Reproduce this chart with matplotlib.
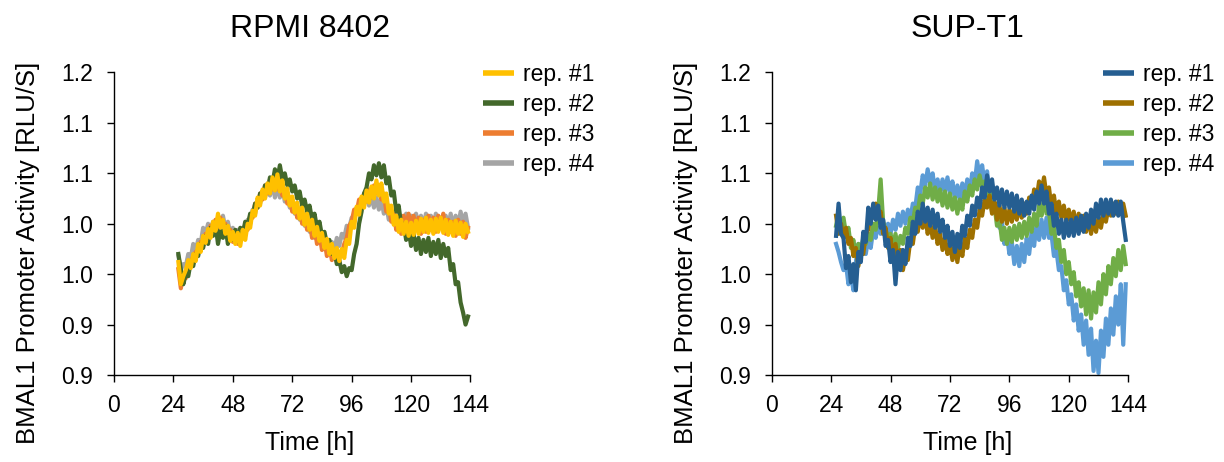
import numpy as np
import matplotlib
matplotlib.use("Agg")
import matplotlib.pyplot as plt

plt.rcParams['font.family'] = ['Liberation Sans', 'DejaVu Sans']

# time axis [h], one reading per hour from 26 h to 143 h
hours = list(range(26, 144))

# RPMI 8402
rpmi_rep1 = [1.012, 0.990, 0.998, 1.004, 1.014, 1.006, 1.020, 1.013, 1.030, 1.022,
             1.038, 1.031, 1.045, 1.036, 1.052, 1.043, 1.060, 1.046, 1.054, 1.040,
             1.048, 1.033, 1.042, 1.030, 1.041, 1.028, 1.044, 1.034, 1.050, 1.046,
             1.063, 1.058, 1.076, 1.068, 1.084, 1.075, 1.090, 1.080, 1.096, 1.083,
             1.099, 1.082, 1.093, 1.075, 1.085, 1.068, 1.077, 1.061, 1.071, 1.055,
             1.066, 1.049, 1.060, 1.044, 1.054, 1.038, 1.047, 1.033, 1.041, 1.026,
             1.035, 1.020, 1.030, 1.016, 1.026, 1.013, 1.025, 1.016, 1.034, 1.030,
             1.052, 1.046, 1.067, 1.059, 1.077, 1.066, 1.083, 1.071, 1.087, 1.075,
             1.093, 1.078, 1.090, 1.072, 1.080, 1.060, 1.068, 1.049, 1.058, 1.042,
             1.054, 1.040, 1.052, 1.038, 1.051, 1.039, 1.053, 1.040, 1.055, 1.042,
             1.056, 1.041, 1.054, 1.040, 1.055, 1.042, 1.056, 1.041, 1.054, 1.039,
             1.052, 1.038, 1.053, 1.040, 1.051, 1.037, 1.050, 1.042]
rpmi_rep2 = [1.020, 1.005, 0.990, 1.000, 0.998, 1.012, 1.008, 1.020, 1.018, 1.030,
             1.026, 1.038, 1.030, 1.046, 1.038, 1.050, 1.030, 1.044, 1.036, 1.048,
             1.030, 1.040, 1.034, 1.044, 1.032, 1.046, 1.040, 1.052, 1.048, 1.060,
             1.058, 1.070, 1.066, 1.080, 1.076, 1.088, 1.082, 1.096, 1.090, 1.104,
             1.094, 1.108, 1.094, 1.100, 1.088, 1.094, 1.082, 1.088, 1.075, 1.082,
             1.068, 1.074, 1.062, 1.068, 1.054, 1.060, 1.046, 1.052, 1.038, 1.042,
             1.030, 1.034, 1.020, 1.024, 1.010, 1.014, 1.002, 1.008, 0.998, 1.006,
             1.004, 1.020, 1.030, 1.050, 1.062, 1.080, 1.086, 1.100, 1.094, 1.108,
             1.098, 1.110, 1.096, 1.108, 1.090, 1.096, 1.078, 1.082, 1.062, 1.068,
             1.048, 1.050, 1.034, 1.044, 1.028, 1.040, 1.024, 1.036, 1.020, 1.034,
             1.022, 1.036, 1.018, 1.032, 1.020, 1.034, 1.016, 1.030, 1.018, 1.026,
             1.004, 1.010, 0.990, 0.992, 0.972, 0.962, 0.950, 0.958]
rpmi_rep3 = [1.005, 0.986, 1.000, 0.996, 1.010, 1.010, 1.018, 1.022, 1.024, 1.032,
             1.028, 1.040, 1.036, 1.048, 1.040, 1.054, 1.046, 1.056, 1.042, 1.050,
             1.036, 1.044, 1.032, 1.040, 1.030, 1.042, 1.036, 1.048, 1.044, 1.058,
             1.056, 1.070, 1.066, 1.080, 1.074, 1.088, 1.080, 1.094, 1.084, 1.094,
             1.084, 1.090, 1.078, 1.084, 1.070, 1.076, 1.062, 1.070, 1.056, 1.064,
             1.050, 1.058, 1.044, 1.052, 1.036, 1.046, 1.030, 1.040, 1.024, 1.034,
             1.018, 1.028, 1.014, 1.024, 1.012, 1.022, 1.020, 1.030, 1.036, 1.048,
             1.052, 1.064, 1.062, 1.074, 1.068, 1.080, 1.072, 1.084, 1.076, 1.088,
             1.080, 1.088, 1.074, 1.080, 1.062, 1.068, 1.052, 1.060, 1.044, 1.054,
             1.040, 1.058, 1.044, 1.060, 1.046, 1.058, 1.044, 1.056, 1.040, 1.054,
             1.042, 1.058, 1.044, 1.056, 1.042, 1.058, 1.046, 1.060, 1.040, 1.054,
             1.042, 1.052, 1.038, 1.054, 1.040, 1.052, 1.036, 1.046]
rpmi_rep4 = [1.018, 1.004, 1.010, 1.008, 1.020, 1.016, 1.030, 1.024, 1.034, 1.030,
             1.046, 1.040, 1.050, 1.044, 1.052, 1.046, 1.054, 1.050, 1.058, 1.046,
             1.052, 1.040, 1.046, 1.036, 1.044, 1.034, 1.046, 1.040, 1.054, 1.050,
             1.064, 1.060, 1.074, 1.070, 1.082, 1.076, 1.090, 1.078, 1.092, 1.076,
             1.088, 1.076, 1.086, 1.072, 1.080, 1.066, 1.074, 1.060, 1.068, 1.054,
             1.062, 1.048, 1.056, 1.042, 1.050, 1.036, 1.044, 1.032, 1.040, 1.028,
             1.034, 1.022, 1.032, 1.024, 1.036, 1.028, 1.040, 1.036, 1.048, 1.046,
             1.056, 1.058, 1.066, 1.064, 1.074, 1.070, 1.078, 1.068, 1.078, 1.066,
             1.076, 1.064, 1.074, 1.060, 1.068, 1.054, 1.062, 1.050, 1.060, 1.048,
             1.058, 1.046, 1.060, 1.048, 1.058, 1.046, 1.060, 1.048, 1.058, 1.046,
             1.060, 1.050, 1.058, 1.046, 1.060, 1.048, 1.056, 1.046, 1.058, 1.048,
             1.060, 1.046, 1.058, 1.048, 1.062, 1.050, 1.060, 1.046]

# SUP-T1
sup_rep1 = [1.038, 1.070, 1.040, 1.036, 1.006, 1.018, 0.992, 1.010, 0.984, 1.022,
            1.012, 1.042, 1.032, 1.066, 1.050, 1.070, 1.054, 1.068, 1.046, 1.054,
            1.028, 1.034, 1.012, 1.024, 0.990, 1.022, 1.004, 1.024, 1.010, 1.036,
            1.028, 1.052, 1.040, 1.062, 1.050, 1.070, 1.052, 1.066, 1.048, 1.064,
            1.046, 1.060, 1.042, 1.054, 1.036, 1.048, 1.028, 1.042, 1.022, 1.040,
            1.026, 1.048, 1.038, 1.058, 1.048, 1.068, 1.058, 1.076, 1.066, 1.086,
            1.076, 1.098, 1.082, 1.094, 1.074, 1.086, 1.068, 1.084, 1.066, 1.082,
            1.066, 1.080, 1.062, 1.078, 1.060, 1.074, 1.058, 1.072, 1.060, 1.078,
            1.064, 1.082, 1.070, 1.088, 1.070, 1.082, 1.060, 1.070, 1.048, 1.060,
            1.040, 1.054, 1.036, 1.054, 1.038, 1.054, 1.038, 1.056, 1.040, 1.058,
            1.042, 1.060, 1.046, 1.064, 1.050, 1.070, 1.056, 1.074, 1.058, 1.074,
            1.060, 1.074, 1.058, 1.072, 1.058, 1.072, 1.052, 1.034]
sup_rep2 = [1.058, 1.040, 1.050, 1.036, 1.046, 1.030, 1.036, 1.018, 1.026, 1.008,
            1.022, 1.020, 1.040, 1.044, 1.060, 1.056, 1.070, 1.056, 1.062, 1.040,
            1.046, 1.026, 1.036, 1.016, 1.030, 1.012, 1.024, 1.004, 1.018, 1.014,
            1.034, 1.030, 1.048, 1.042, 1.060, 1.046, 1.058, 1.040, 1.052, 1.036,
            1.048, 1.030, 1.040, 1.024, 1.036, 1.020, 1.030, 1.014, 1.028, 1.012,
            1.030, 1.018, 1.036, 1.026, 1.044, 1.036, 1.054, 1.046, 1.064, 1.058,
            1.074, 1.066, 1.078, 1.060, 1.072, 1.054, 1.068, 1.052, 1.066, 1.050,
            1.064, 1.052, 1.066, 1.054, 1.068, 1.056, 1.070, 1.060, 1.076, 1.066,
            1.084, 1.074, 1.092, 1.082, 1.096, 1.078, 1.086, 1.066, 1.078, 1.060,
            1.072, 1.056, 1.068, 1.052, 1.064, 1.050, 1.062, 1.046, 1.060, 1.044,
            1.058, 1.042, 1.056, 1.040, 1.054, 1.042, 1.056, 1.046, 1.060, 1.052,
            1.066, 1.058, 1.070, 1.060, 1.072, 1.060, 1.070, 1.058]
sup_rep3 = [1.048, 1.060, 1.044, 1.056, 1.040, 1.046, 1.026, 1.034, 1.018, 1.030,
            1.022, 1.036, 1.030, 1.040, 1.034, 1.050, 1.044, 1.062, 1.094, 1.052,
            1.044, 1.036, 1.040, 1.028, 1.040, 1.026, 1.038, 1.030, 1.046, 1.040,
            1.056, 1.052, 1.066, 1.062, 1.078, 1.070, 1.086, 1.076, 1.090, 1.074,
            1.086, 1.072, 1.084, 1.068, 1.082, 1.066, 1.080, 1.064, 1.076, 1.060,
            1.074, 1.064, 1.082, 1.072, 1.088, 1.078, 1.094, 1.084, 1.098, 1.086,
            1.092, 1.076, 1.082, 1.062, 1.068, 1.048, 1.054, 1.034, 1.046, 1.030,
            1.046, 1.032, 1.048, 1.034, 1.050, 1.036, 1.052, 1.038, 1.056, 1.042,
            1.060, 1.048, 1.068, 1.058, 1.076, 1.060, 1.062, 1.040, 1.048, 1.026,
            1.034, 1.012, 1.024, 1.000, 1.012, 0.990, 1.002, 0.978, 0.992, 0.968,
            0.986, 0.960, 0.984, 0.956, 0.982, 0.962, 0.992, 0.970, 1.000, 0.980,
            1.008, 0.990, 1.016, 0.998, 1.024, 1.004, 1.028, 1.010]
sup_rep4 = [1.030, 1.022, 1.012, 1.004, 1.010, 0.990, 1.000, 0.984, 1.012, 1.030,
            1.018, 1.034, 1.020, 1.036, 1.026, 1.044, 1.036, 1.052, 1.040, 1.054,
            1.036, 1.050, 1.040, 1.054, 1.044, 1.060, 1.048, 1.062, 1.050, 1.064,
            1.054, 1.070, 1.066, 1.086, 1.080, 1.098, 1.088, 1.104, 1.090, 1.100,
            1.082, 1.094, 1.080, 1.094, 1.082, 1.096, 1.080, 1.092, 1.074, 1.088,
            1.074, 1.090, 1.078, 1.094, 1.082, 1.100, 1.090, 1.112, 1.096, 1.108,
            1.090, 1.102, 1.080, 1.088, 1.064, 1.070, 1.046, 1.052, 1.030, 1.040,
            1.020, 1.032, 1.010, 1.028, 1.008, 1.030, 1.012, 1.036, 1.020, 1.042,
            1.028, 1.050, 1.034, 1.054, 1.036, 1.056, 1.036, 1.040, 1.018, 1.024,
            1.004, 1.008, 0.984, 0.994, 0.970, 0.980, 0.954, 0.970, 0.944, 0.960,
            0.930, 0.954, 0.920, 0.946, 0.904, 0.934, 0.902, 0.944, 0.918, 0.956,
            0.930, 0.966, 0.940, 0.978, 0.950, 0.990, 0.930, 0.990]

labels = ['rep. #1', 'rep. #2', 'rep. #3', 'rep. #4']
rpmi_colors = ['#FFC000', '#43682B', '#ED7D31', '#A5A5A5']
sup_colors = ['#255E91', '#9E7000', '#70AD47', '#5B9BD5']

xticks = [0, 24, 48, 72, 96, 120, 144]
yticks = [0.9, 0.95, 1.0, 1.05, 1.1, 1.15, 1.2]
ytick_labels = ['0.9', '0.9', '1.0', '1.0', '1.1', '1.1', '1.2']

W, H = 1224, 462
fig = plt.figure(figsize=(W / 100, H / 100), dpi=100)


def panel(left_px, series, colors, title, legend_x):
    ax = fig.add_axes([left_px / W, 87 / H, 356.5 / W, 302.5 / H])
    lines = []
    for ys, c, lab in zip(series[::-1], colors[::-1], labels[::-1]):
        ln, = ax.plot(hours, ys, color=c, lw=3.0, label=lab, solid_joinstyle='round')
        lines.append(ln)
    lines = lines[::-1]
    ax.set_xlim(0, 144)
    ax.set_ylim(0.9, 1.2)
    ax.set_xticks(xticks)
    ax.set_yticks(yticks)
    ax.set_yticklabels(ytick_labels)
    for s in ['top', 'right']:
        ax.spines[s].set_visible(False)
    for s in ['left', 'bottom']:
        ax.spines[s].set_linewidth(1.0)
        ax.spines[s].set_color('black')
    ax.tick_params(axis='both', direction='out', length=5, width=1.0, labelsize=16.5)
    ax.tick_params(axis='x', pad=8.5)
    ax.tick_params(axis='y', pad=10)
    leg = ax.legend(handles=lines, loc='upper left', bbox_to_anchor=(legend_x / W, 1 - 63 / H),
                    bbox_transform=fig.transFigure, frameon=False, fontsize=16.5,
                    borderaxespad=0, borderpad=0, handlelength=1.35, handletextpad=0.4,
                    labelspacing=0.3)
    for h in leg.legend_handles:
        h.set_linewidth(4.0)
        h.set_solid_capstyle('butt')
    cx = left_px + 196
    fig.text(cx / W, 1 - 37 / H, title, fontsize=23, ha='center', va='baseline')
    fig.text(cx / W, 1 - 450 / H, 'Time [h]', fontsize=18, ha='center', va='baseline')
    fig.text((left_px - 86) / W, 1 - 253 / H, 'BMAL1 Promoter Activity [RLU/S]',
             fontsize=18.5, rotation=90, ha='center', va='center')
    return ax


panel(114, [rpmi_rep1, rpmi_rep2, rpmi_rep3, rpmi_rep4], rpmi_colors, 'RPMI 8402', 483)
panel(771.7, [sup_rep1, sup_rep2, sup_rep3, sup_rep4], sup_colors, 'SUP-T1', 1103)

fig.savefig('out.png', dpi=100)
